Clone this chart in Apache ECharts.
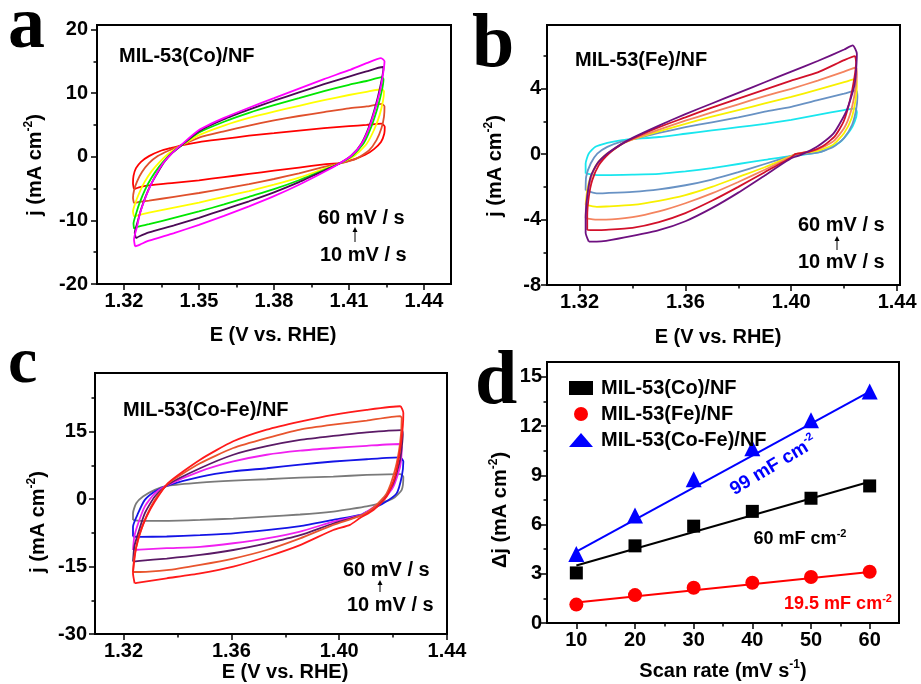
<!DOCTYPE html>
<html><head><meta charset="utf-8">
<script src="https://cdn.jsdelivr.net/npm/echarts@6/dist/echarts.min.js"></script>
<style>html,body{margin:0;padding:0;background:#fff}#c{width:921px;height:684px}</style>
</head><body><div id="c"></div>
<script>
// ---------- Panel a : MIL-53(Co)/NF CV loops [E, j] ----------
const coLoop10 = [[1.3240,-5.1],[1.3236,-4.2],[1.3238,-3.0],[1.3248,-1.8],[1.3268,-0.8],[1.3300,0.1],[1.3345,0.9],[1.3390,1.4],[1.3430,1.8],[1.3500,2.3],[1.3600,2.8],[1.3700,3.3],[1.3800,3.7],[1.3900,4.1],[1.4000,4.5],[1.4100,4.8],[1.4170,5.0],[1.4230,5.2],[1.4243,4.7],[1.4241,3.6],[1.4228,2.3],[1.4200,1.2],[1.4165,0.3],[1.4120,-0.4],[1.4060,-1.0],[1.4000,-1.2],[1.3900,-1.7],[1.3800,-2.2],[1.3700,-2.7],[1.3600,-3.2],[1.3500,-3.7],[1.3400,-4.1],[1.3300,-4.5],[1.3260,-4.8],[1.3240,-5.1]];
const coLoop20 = [[1.3240,-7.3],[1.3236,-6.5],[1.3240,-5.3],[1.3252,-3.9],[1.3272,-2.4],[1.3300,-1.0],[1.3335,0.1],[1.3375,0.9],[1.3430,1.8],[1.3500,3.0],[1.3600,4.0],[1.3700,4.9],[1.3800,5.7],[1.3900,6.4],[1.4000,7.0],[1.4100,7.6],[1.4170,7.9],[1.4230,8.3],[1.4242,7.9],[1.4240,6.3],[1.4230,4.5],[1.4210,2.6],[1.4180,1.0],[1.4130,-0.3],[1.4060,-1.1],[1.4000,-1.6],[1.3900,-2.6],[1.3800,-3.5],[1.3700,-4.3],[1.3600,-5.0],[1.3500,-5.7],[1.3400,-6.3],[1.3300,-6.9],[1.3260,-7.1],[1.3240,-7.3]];
const coLoop30 = [[1.3240,-9.4],[1.3236,-8.6],[1.3245,-7.3],[1.3260,-5.8],[1.3282,-4.0],[1.3310,-2.3],[1.3343,-0.8],[1.3375,0.4],[1.3405,1.2],[1.3430,1.8],[1.3500,3.4],[1.3600,4.9],[1.3700,6.1],[1.3800,7.1],[1.3900,8.0],[1.4000,8.9],[1.4100,9.7],[1.4170,10.2],[1.4232,10.6],[1.4240,10.3],[1.4236,8.8],[1.4222,6.5],[1.4200,4.2],[1.4170,2.0],[1.4120,0.1],[1.4060,-1.1],[1.4000,-1.9],[1.3900,-3.3],[1.3800,-4.4],[1.3700,-5.4],[1.3600,-6.3],[1.3500,-7.2],[1.3400,-8.0],[1.3300,-8.8],[1.3255,-9.2],[1.3240,-9.4]];
const coLoop40 = [[1.3240,-11.3],[1.3238,-10.5],[1.3248,-9.0],[1.3262,-7.3],[1.3284,-5.2],[1.3310,-3.3],[1.3340,-1.6],[1.3370,-0.2],[1.3400,0.9],[1.3430,1.8],[1.3500,3.8],[1.3600,5.5],[1.3700,6.9],[1.3800,8.1],[1.3900,9.2],[1.4000,10.3],[1.4100,11.3],[1.4170,11.9],[1.4232,12.5],[1.4238,12.2],[1.4232,10.5],[1.4215,7.8],[1.4190,4.8],[1.4160,2.2],[1.4115,0.2],[1.4060,-1.1],[1.4000,-2.1],[1.3900,-3.7],[1.3800,-5.1],[1.3700,-6.3],[1.3600,-7.5],[1.3500,-8.6],[1.3400,-9.6],[1.3300,-10.6],[1.3255,-11.0],[1.3240,-11.3]];
const coLoop50 = [[1.3248,-12.8],[1.3243,-12.0],[1.3254,-10.3],[1.3268,-8.3],[1.3288,-6.1],[1.3310,-4.2],[1.3336,-2.4],[1.3362,-0.8],[1.3393,0.6],[1.3430,1.8],[1.3500,4.0],[1.3600,5.9],[1.3700,7.4],[1.3800,8.8],[1.3900,10.1],[1.4000,11.4],[1.4100,12.6],[1.4170,13.4],[1.4235,14.1],[1.4238,14.0],[1.4225,11.0],[1.4205,7.8],[1.4180,4.7],[1.4150,2.1],[1.4110,0.2],[1.4060,-1.1],[1.4000,-2.2],[1.3900,-4.0],[1.3800,-5.6],[1.3700,-7.0],[1.3600,-8.3],[1.3500,-9.6],[1.3400,-10.8],[1.3300,-11.9],[1.3262,-12.5],[1.3248,-12.8]];
const coLoop60 = [[1.3244,-14.1],[1.3240,-13.0],[1.3252,-11.0],[1.3264,-8.9],[1.3284,-6.6],[1.3304,-4.7],[1.3330,-2.7],[1.3357,-1.0],[1.3390,0.5],[1.3430,1.9],[1.3500,4.2],[1.3600,6.1],[1.3700,7.7],[1.3800,9.2],[1.3900,10.7],[1.4000,12.2],[1.4100,13.6],[1.4170,14.7],[1.4228,15.5],[1.4242,15.0],[1.4238,13.5],[1.4225,10.5],[1.4205,7.5],[1.4180,4.5],[1.4150,2.0],[1.4110,0.2],[1.4060,-1.1],[1.4000,-2.4],[1.3900,-4.4],[1.3800,-6.2],[1.3700,-7.8],[1.3600,-9.3],[1.3500,-10.7],[1.3400,-12.0],[1.3300,-13.2],[1.3264,-13.8],[1.3244,-14.1]];

// ---------- Panel b : MIL-53(Fe)/NF CV loops ----------
const feLoop10 = [[1.3223,-1.18],[1.3223,-0.57],[1.3235,0.04],[1.3260,0.45],[1.3305,0.69],[1.3355,0.85],[1.3400,0.92],[1.3500,1.05],[1.3600,1.25],[1.3700,1.45],[1.3800,1.65],[1.3900,1.85],[1.4000,2.1],[1.4100,2.4],[1.4200,2.7],[1.4242,2.8],[1.4248,2.55],[1.4240,2.0],[1.4223,1.46],[1.4185,0.75],[1.4110,0.14],[1.4034,-0.06],[1.4000,-0.1],[1.3900,-0.35],[1.3800,-0.6],[1.3700,-0.85],[1.3600,-1.05],[1.3500,-1.2],[1.3400,-1.25],[1.3300,-1.28],[1.3265,-1.28],[1.3223,-1.18]];
const feLoop20 = [[1.3223,-2.2],[1.3225,-1.38],[1.3242,-0.57],[1.3267,0.04],[1.3305,0.45],[1.3355,0.75],[1.3400,0.9],[1.3500,1.3],[1.3600,1.65],[1.3700,1.95],[1.3800,2.25],[1.3900,2.6],[1.4000,2.9],[1.4100,3.3],[1.4200,3.7],[1.4245,3.9],[1.4250,3.5],[1.4245,2.7],[1.4230,1.8],[1.4200,1.0],[1.4160,0.45],[1.4100,0.1],[1.4015,-0.05],[1.4000,-0.1],[1.3900,-0.6],[1.3800,-1.1],[1.3700,-1.55],[1.3600,-1.9],[1.3500,-2.15],[1.3400,-2.3],[1.3300,-2.38],[1.3265,-2.4],[1.3223,-2.2]];
const feLoop30 = [[1.3223,-3.1],[1.3229,-2.2],[1.3242,-1.38],[1.3267,-0.57],[1.3305,0.04],[1.3336,0.35],[1.3357,0.6],[1.3400,0.9],[1.3500,1.4],[1.3600,1.85],[1.3700,2.3],[1.3800,2.7],[1.3900,3.1],[1.4000,3.5],[1.4100,3.95],[1.4200,4.4],[1.4245,4.6],[1.4248,4.2],[1.4243,3.3],[1.4228,2.2],[1.4200,1.3],[1.4160,0.6],[1.4100,0.2],[1.4015,0.0],[1.4000,-0.12],[1.3900,-0.8],[1.3800,-1.4],[1.3700,-2.0],[1.3600,-2.5],[1.3500,-2.85],[1.3400,-3.1],[1.3300,-3.2],[1.3265,-3.22],[1.3223,-3.1]];
const feLoop40 = [[1.3223,-3.92],[1.3225,-3.0],[1.3235,-2.0],[1.3254,-0.98],[1.3286,-0.26],[1.3323,0.24],[1.3357,0.6],[1.3400,0.9],[1.3500,1.5],[1.3600,2.05],[1.3700,2.55],[1.3800,3.05],[1.3900,3.55],[1.4000,4.0],[1.4100,4.5],[1.4200,5.05],[1.4245,5.3],[1.4248,4.9],[1.4242,3.9],[1.4225,2.6],[1.4200,1.6],[1.4160,0.8],[1.4100,0.3],[1.4015,0.0],[1.4000,-0.15],[1.3900,-0.95],[1.3800,-1.7],[1.3700,-2.4],[1.3600,-3.0],[1.3500,-3.5],[1.3400,-3.85],[1.3300,-4.0],[1.3265,-4.0],[1.3223,-3.92]];
const feLoop50 = [[1.3229,-4.63],[1.3229,-3.8],[1.3235,-2.6],[1.3248,-1.59],[1.3273,-0.67],[1.3311,0.04],[1.3357,0.6],[1.3400,0.95],[1.3500,1.65],[1.3600,2.25],[1.3700,2.85],[1.3800,3.4],[1.3900,3.95],[1.4000,4.5],[1.4100,5.0],[1.4200,5.75],[1.4240,6.0],[1.4245,5.6],[1.4238,4.6],[1.4222,3.3],[1.4198,2.0],[1.4165,1.1],[1.4120,0.5],[1.4070,0.15],[1.4015,0.0],[1.4000,-0.2],[1.3900,-1.1],[1.3800,-2.0],[1.3700,-2.85],[1.3600,-3.6],[1.3500,-4.15],[1.3400,-4.5],[1.3300,-4.63],[1.3265,-4.65],[1.3229,-4.63]];
const feLoop60 = [[1.3235,-5.35],[1.3223,-4.8],[1.3223,-4.0],[1.3229,-2.6],[1.3242,-1.38],[1.3267,-0.57],[1.3305,0.04],[1.3357,0.6],[1.3400,1.0],[1.3500,1.75],[1.3600,2.45],[1.3700,3.1],[1.3800,3.75],[1.3900,4.4],[1.4000,5.05],[1.4100,5.7],[1.4200,6.4],[1.4232,6.65],[1.4248,6.14],[1.4240,4.3],[1.4210,2.7],[1.4160,1.27],[1.4097,0.45],[1.4034,-0.06],[1.4000,-0.25],[1.3900,-1.3],[1.3800,-2.35],[1.3700,-3.3],[1.3600,-4.1],[1.3500,-4.65],[1.3400,-5.0],[1.3300,-5.3],[1.3265,-5.35],[1.3235,-5.35]];

// ---------- Panel c : MIL-53(Co-Fe)/NF CV loops ----------
const cofeLoop10 = [[1.3235,-4.6],[1.3235,-3.1],[1.3247,-0.9],[1.3272,0.6],[1.3316,2.1],[1.3365,3.0],[1.3484,3.7],[1.3607,4.15],[1.3731,4.45],[1.3855,4.8],[1.3978,5.05],[1.4102,5.4],[1.4226,5.6],[1.4238,5.0],[1.4232,2.1],[1.4201,0.2],[1.4151,-0.9],[1.4102,-1.6],[1.4040,-2.2],[1.3978,-2.75],[1.3855,-3.4],[1.3731,-3.85],[1.3607,-4.3],[1.3484,-4.6],[1.3360,-4.8],[1.3260,-4.8],[1.3235,-4.6]];
const cofeLoop20 = [[1.3235,-8.3],[1.3235,-6.1],[1.3254,-3.1],[1.3279,-0.15],[1.3316,1.7],[1.3365,3.1],[1.3484,5.0],[1.3607,6.2],[1.3731,6.9],[1.3855,7.7],[1.3978,8.4],[1.4102,8.9],[1.4226,9.3],[1.4238,8.4],[1.4232,5.0],[1.4213,1.3],[1.4164,-0.9],[1.4102,-2.8],[1.4083,-3.4],[1.3978,-4.6],[1.3855,-6.0],[1.3731,-6.9],[1.3607,-7.6],[1.3484,-8.0],[1.3360,-8.3],[1.3260,-8.4],[1.3235,-8.3]];
const cofeLoop30 = [[1.3235,-11.3],[1.3240,-8.3],[1.3254,-5.4],[1.3279,-1.6],[1.3316,1.3],[1.3365,3.2],[1.3484,6.2],[1.3607,8.4],[1.3731,9.9],[1.3855,10.8],[1.3978,11.4],[1.4102,11.9],[1.4226,12.3],[1.4232,11.5],[1.4226,7.3],[1.4201,2.8],[1.4164,-0.15],[1.4102,-2.8],[1.4083,-3.5],[1.3978,-5.0],[1.3855,-7.2],[1.3731,-8.7],[1.3607,-9.8],[1.3484,-10.6],[1.3360,-10.9],[1.3260,-11.2],[1.3235,-11.3]];
const cofeLoop40 = [[1.3235,-13.9],[1.3240,-10.5],[1.3254,-7.6],[1.3279,-3.1],[1.3316,0.6],[1.3365,3.3],[1.3484,6.9],[1.3607,9.9],[1.3731,11.8],[1.3855,13.2],[1.3978,14.1],[1.4102,14.9],[1.4232,15.4],[1.4236,14.5],[1.4226,8.8],[1.4201,3.6],[1.4164,-0.15],[1.4102,-3.1],[1.4083,-3.6],[1.3978,-5.4],[1.3855,-8.0],[1.3731,-9.8],[1.3607,-11.3],[1.3484,-12.4],[1.3360,-13.2],[1.3260,-13.7],[1.3235,-13.9]];
const cofeLoop50 = [[1.3235,-16.2],[1.3240,-12.8],[1.3254,-9.1],[1.3279,-4.6],[1.3316,-0.15],[1.3365,3.5],[1.3484,8.0],[1.3607,11.4],[1.3731,13.6],[1.3855,15.5],[1.3978,16.6],[1.4102,17.5],[1.4226,18.5],[1.4232,18.1],[1.4226,12.5],[1.4207,6.5],[1.4176,1.3],[1.4127,-1.9],[1.4083,-3.6],[1.3978,-5.7],[1.3855,-8.7],[1.3731,-11.3],[1.3607,-13.2],[1.3484,-14.6],[1.3360,-15.8],[1.3260,-16.2],[1.3235,-16.2]];
const cofeLoop60 = [[1.3241,-18.7],[1.3235,-16.5],[1.3240,-13.5],[1.3247,-10.6],[1.3260,-7.6],[1.3285,-3.9],[1.3316,-0.5],[1.3365,3.6],[1.3484,8.8],[1.3607,12.9],[1.3731,15.5],[1.3855,17.3],[1.3978,18.8],[1.4102,19.9],[1.4226,20.7],[1.4238,19.2],[1.4236,16.2],[1.4226,11.0],[1.4207,5.0],[1.4176,0.6],[1.4127,-2.4],[1.4077,-4.2],[1.4040,-5.7],[1.3978,-6.85],[1.3855,-10.2],[1.3731,-12.8],[1.3607,-15.0],[1.3484,-16.5],[1.3360,-17.6],[1.3249,-18.6],[1.3241,-18.7]];

// ---------- Panel d : Δj vs scan rate ----------
const scanRates = [10, 20, 30, 40, 50, 60];
const djCo   = [3.05, 4.7, 5.9, 6.8, 7.6, 8.35];
const djFe   = [1.12, 1.7, 2.15, 2.45, 2.8, 3.12];
const djCoFe = [4.2, 6.55, 8.75, 10.65, 12.35, 14.1];
const fitCo   = [[10, 3.5], [60, 8.6]];
const fitFe   = [[10, 1.25], [60, 3.1]];
const fitCoFe = [[10, 4.35], [60, 14.1]];
const seriesNames = ['MIL-53(Co)/NF', 'MIL-53(Fe)/NF', 'MIL-53(Co-Fe)/NF'];

// ---------- tick labels ----------
const aXTicks = [1.32, 1.35, 1.38, 1.41, 1.44], aXMinor = [1.335, 1.365, 1.395, 1.425];
const aYTicks = [-20, -10, 0, 10, 20], aYMinor = [-15, -5, 5, 15];
const bXTicks = [1.32, 1.36, 1.40, 1.44], bXMinor = [1.34, 1.38, 1.42];
const bYTicks = [-8, -4, 0, 4], bYMinor = [-6, -2, 2, 6];
const cXTicks = [1.32, 1.36, 1.40, 1.44], cXMinor = [1.34, 1.38, 1.42];
const cYTicks = [-30, -15, 0, 15], cYMinor = [-22.5, -7.5, 7.5, 22.5];
const dXTicks = [10, 20, 30, 40, 50, 60], dXMinor = [15, 25, 35, 45, 55];
const dYTicks = [0, 3, 6, 9, 12, 15], dYMinor = [1.5, 4.5, 7.5, 10.5, 13.5];

// ---------- build ----------
const FONT = 'Liberation Sans';
const chart = echarts.init(document.getElementById('c'), null, {renderer: 'canvas'});

const grids = [
  {left: 97, top: 25, width: 354, height: 259},
  {left: 547, top: 25, width: 353, height: 260},
  {left: 95, top: 373, width: 352, height: 261},
  {left: 547, top: 362, width: 352, height: 261}
].map(g => Object.assign({show: true, borderColor: '#000', borderWidth: 2, containLabel: false, outerBoundsMode: 'none'}, g));

function axes(isX, gi, min, max, major, minor, fmt, margin) {
  const base = {type: 'value', gridIndex: gi, min, max, position: isX ? 'bottom' : 'left', splitLine: {show: false}, scale: true};
  const maj = Object.assign({}, base, {
    axisLine: {show: true, onZero: false, lineStyle: {color: '#000', width: 2}},
    axisTick: {show: true, inside: false, length: 6, lineStyle: {color: '#000', width: 1.5}, customValues: major},
    axisLabel: {show: true, customValues: major, formatter: fmt, margin, color: '#000', fontSize: 20, fontWeight: 'bold', fontFamily: FONT}
  });
  const mino = Object.assign({}, base, {
    axisLine: {show: false, onZero: false},
    axisTick: {show: true, inside: false, length: 3.5, lineStyle: {color: '#000', width: 1.5}, customValues: minor},
    axisLabel: {show: false}
  });
  return [maj, mino];
}
const f2 = v => v.toFixed(2), f0 = v => String(v);
const xAxis = [].concat(
  axes(true, 0, 1.3092, 1.4508, aXTicks, aXMinor, f2, 7),
  axes(true, 1, 1.3077, 1.4411, bXTicks, bXMinor, f2, 7),
  axes(true, 2, 1.3094, 1.4400, cXTicks, cXMinor, f2, 7),
  axes(true, 3, 5, 65, dXTicks, dXMinor, f0, 7)
);
const yAxis = [].concat(
  axes(false, 0, -20, 20.7, aYTicks, aYMinor, f0, 9),
  axes(false, 1, -8, 7.9, bYTicks, bYMinor, f0, 6),
  axes(false, 2, -30, 28.1, cYTicks, cYMinor, f0, 8),
  axes(false, 3, 0, 15.9, dYTicks, dYMinor, f0, 5)
);

const series = [];
function loops(gi, list, colors, width) {
  list.forEach((d, i) => series.push({
    type: 'line', xAxisIndex: gi * 2, yAxisIndex: gi * 2, data: d, showSymbol: false, symbol: 'none',
    smooth: 0.2, silent: true, lineStyle: {color: colors[i], width: width}
  }));
}
loops(0, [coLoop10, coLoop20, coLoop30, coLoop40, coLoop50, coLoop60], ['#ff0000', '#e0502c', '#ffff00', '#00e600', '#4b0a55', '#ff00ff'], 1.8);
loops(1, [feLoop10, feLoop20, feLoop30, feLoop40, feLoop50, feLoop60], ['#19e6ee', '#6892c4', '#f8f000', '#f4845f', '#d2102a', '#6e1080'], 1.8);
loops(2, [cofeLoop10, cofeLoop20, cofeLoop30, cofeLoop40, cofeLoop50, cofeLoop60], ['#7a7a7a', '#1414e6', '#f020f0', '#5a1a66', '#e8552e', '#ff1a1a'], 1.8);

const dColors = ['#000000', '#ff0000', '#0000ff'];
const dSym = ['rect', 'circle', 'triangle'], dSize = [13, 14, 16];
[fitCo, fitFe, fitCoFe].forEach((f, i) => series.push({
  type: 'line', xAxisIndex: 6, yAxisIndex: 6, data: f, showSymbol: false, symbol: 'none', silent: true,
  lineStyle: {color: dColors[i], width: 2}, z: 2
}));
[djCo, djFe, djCoFe].forEach((d, i) => series.push({
  type: 'scatter', name: seriesNames[i], xAxisIndex: 6, yAxisIndex: 6,
  data: scanRates.map((x, k) => [x, d[k]]), symbol: dSym[i], symbolSize: dSize[i],
  itemStyle: {color: dColors[i], opacity: 1}, z: 3
}));

function t(x, y, text, opt) {
  return {type: 'text', x, y, silent: true, style: Object.assign({
    text, fill: '#000', fontSize: 20, fontWeight: 'bold', fontFamily: FONT, align: 'left', verticalAlign: 'middle'
  }, opt || {})};
}
function sup(text, color, size, rot, x, y, align) {
  return {type: 'text', x, y, rotation: rot || 0, silent: true, style: {
    text, fill: color, fontSize: size, fontWeight: 'bold', fontFamily: FONT, align: align || 'center', verticalAlign: 'middle',
    rich: {
      n: {fill: color, fontSize: size, fontWeight: 'bold', fontFamily: FONT, lineHeight: size + 2, verticalAlign: 'bottom'},
      s: {fill: color, fontSize: Math.round(size * 0.6), fontWeight: 'bold', fontFamily: FONT, lineHeight: size + 2, verticalAlign: 'top'}
    }}};
}
function arrow(x, yTail, yHead) {
  return [
    {type: 'line', silent: true, shape: {x1: x, y1: yTail, x2: x, y2: yHead + 3}, style: {stroke: '#000', lineWidth: 1}},
    {type: 'polygon', silent: true, shape: {points: [[x - 2.5, yHead + 4], [x + 2.5, yHead + 4], [x, yHead - 1]]}, style: {fill: '#000'}}
  ];
}
const serif = {fontFamily: 'Liberation Serif', fontWeight: 'bold'};
const graphic = [
  t(8, 28, 'a', Object.assign({fontSize: 74}, serif)),
  t(472, 46, 'b', Object.assign({fontSize: 76}, serif)),
  t(8, 365, 'c', Object.assign({fontSize: 66}, serif)),
  t(475, 383, 'd', Object.assign({fontSize: 76}, serif)),
  t(119, 56, 'MIL-53(Co)/NF'),
  t(575, 60, 'MIL-53(Fe)/NF'),
  t(123, 410, 'MIL-53(Co-Fe)/NF'),
  t(318, 218, '60 mV / s'), t(320, 255, '10 mV / s'),
  t(798, 225, '60 mV / s'), t(798, 262, '10 mV / s'),
  t(343, 570, '60 mV / s'), t(347, 605, '10 mV / s'),
  t(273, 335, 'E (V vs. RHE)', {align: 'center'}),
  t(718, 337, 'E (V vs. RHE)', {align: 'center'}),
  t(285, 672, 'E (V vs. RHE)', {align: 'center'}),
  sup('{n|Scan rate (mV s}{s|-1}{n|)}', '#000', 20, 0, 723, 670),
  sup('{n|j (mA cm}{s|-2}{n|)}', '#000', 20, Math.PI / 2, 34, 165),
  sup('{n|j (mA cm}{s|-2}{n|)}', '#000', 20, Math.PI / 2, 494, 166),
  sup('{n|j (mA cm}{s|-2}{n|)}', '#000', 20, Math.PI / 2, 37, 522),
  sup('{n|\u0394j (mA cm}{s|-2}{n|)}', '#000', 20, Math.PI / 2, 499, 510),
  sup('{n|99 mF cm}{s|-2}', '#0000ff', 19, 31 * Math.PI / 180, 773, 465),
  sup('{n|60 mF cm}{s|-2}', '#000', 18, 0, 800, 538),
  sup('{n|19.5 mF cm}{s|-2}', '#ff0000', 18, 0, 838, 603)
].concat(arrow(355, 242, 228), arrow(837, 250, 237), arrow(380, 592, 581));

chart.setOption({
  animation: false,
  backgroundColor: '#fff',
  grid: grids,
  xAxis, yAxis, series, graphic,
  legend: {
    data: seriesNames, orient: 'vertical', left: 564, top: 373, itemWidth: 24, itemHeight: 14, itemGap: 6,
    selectedMode: false,
    itemStyle: {opacity: 1},
    textStyle: {fontSize: 20, fontWeight: 'bold', fontFamily: FONT, color: '#000', padding: [0, 0, 0, 3]}
  }
});
</script></body></html>
